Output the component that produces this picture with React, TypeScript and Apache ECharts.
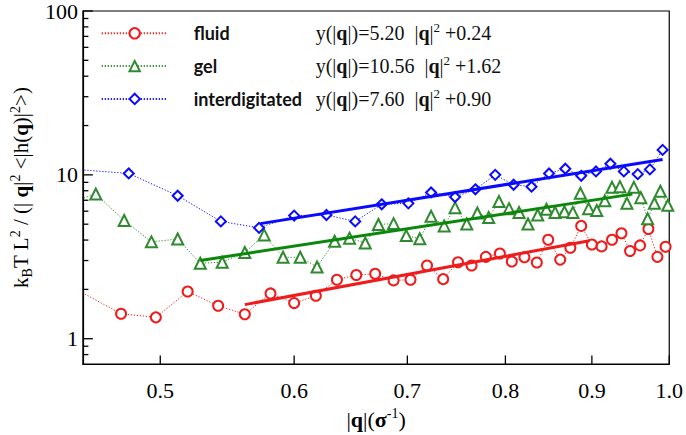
import React, { useEffect, useRef } from "react";
import * as echarts from "echarts";

const seriesNames = ["fluid", "gel", "interdigitated"];

const fluidQ = [0.448, 0.474, 0.497, 0.519, 0.541, 0.561, 0.581, 0.6, 0.618, 0.636, 0.653, 0.67, 0.687, 0.703, 0.719, 0.735, 0.75, 0.764, 0.779, 0.794, 0.807, 0.821, 0.835, 0.848, 0.862, 0.874, 0.887, 0.9, 0.912, 0.925, 0.937, 0.948, 0.961, 0.972, 0.984, 0.995];
const fluidY = [1.95, 1.42, 1.35, 1.94, 1.59, 1.41, 1.89, 1.65, 1.83, 2.29, 2.45, 2.49, 2.27, 2.29, 2.8, 2.31, 2.93, 2.8, 3.16, 3.31, 2.96, 3.14, 2.92, 4.02, 3.04, 3.59, 4.88, 3.76, 3.66, 4.02, 4.4, 3.43, 3.71, 4.67, 3.16, 3.64];

const gelQ = [0.435, 0.458, 0.476, 0.494, 0.512, 0.528, 0.544, 0.561, 0.576, 0.591, 0.605, 0.619, 0.634, 0.647, 0.661, 0.673, 0.687, 0.699, 0.712, 0.723, 0.736, 0.747, 0.759, 0.77, 0.782, 0.793, 0.804, 0.815, 0.825, 0.836, 0.846, 0.856, 0.867, 0.877, 0.886, 0.896, 0.906, 0.916, 0.925, 0.935, 0.944, 0.953, 0.962, 0.971, 0.98, 0.988, 0.998];
const gelY = [6.48, 7.63, 5.27, 3.9, 4.06, 2.89, 2.93, 3.36, 4.3, 3.14, 3.14, 2.74, 3.93, 4.11, 3.84, 4.98, 5.04, 4.26, 4.07, 5.59, 4.88, 6.31, 5.01, 5.85, 5.49, 6.88, 6.22, 5.9, 5.01, 5.69, 6.17, 5.9, 5.95, 5.9, 7.73, 6.22, 6.06, 6.94, 8.39, 8.47, 6.7, 8.39, 7.26, 5.39, 6.7, 7.94, 6.52];

const interQ = [0.44, 0.479, 0.512, 0.543, 0.572, 0.6, 0.627, 0.652, 0.676, 0.701, 0.723, 0.747, 0.768, 0.789, 0.809, 0.829, 0.849, 0.868, 0.887, 0.905, 0.923, 0.94, 0.958, 0.974, 0.991];
const interY = [10.9, 10.2, 7.46, 5.2, 4.75, 5.64, 5.69, 5.2, 6.61, 6.7, 7.81, 7.32, 8.16, 10.0, 8.7, 8.47, 10.2, 10.9, 9.87, 10.5, 11.7, 10.5, 10.1, 10.8, 14.2];

// fitted lines (end points)
const fluidFitQ = [0.561, 0.897];
const fluidFitY = [1.615, 3.965];
const gelFitQ = [0.528, 0.951];
const gelFitY = [3.0, 7.63];
const interFitQ = [0.573, 0.991];
const interFitY = [5.04, 12.4];

// legend equation coefficients y(|q|) = a |q|^2 + b
const fitA = [5.2, 10.56, 7.6];
const fitB = [0.24, 1.62, 0.9];

const X_MIN = 0.45;
const X_MAX = 1.0;
const Y_MIN = 0.7;
const Y_MAX = 100;
const xTicks = [0.5, 0.6, 0.7, 0.8, 0.9, 1.0];
const yMajorTicks = [1, 10, 100];
const yMinorTicks = [0.8, 0.9, 2, 3, 4, 5, 6, 7, 8, 9, 20, 30, 40, 50, 60, 70, 80, 90];

const RED = "#ee1c1c";
const GREEN = "#2f8a2f";
const GREEN_FIT = "#0b870b";
const BLUE = "#0a0aff";
const SERIF = "Liberation Serif";

const zip = (q: number[], y: number[]) => q.map((v, i) => [v, y[i]]);

const dataSeries = (name: string, q: number[], y: number[], color: string, symbol: string, size: number) => ({
  name,
  type: "line",
  data: zip(q, y),
  symbol,
  symbolSize: size,
  clip: true,
  lineStyle: { color, width: 1, type: [1.2, 1.8] },
  itemStyle: { color, borderColor: color, borderWidth: 1.3 },
  z: 2,
});

const fitSeries = (name: string, q: number[], y: number[], color: string) => ({
  name,
  type: "line",
  data: zip(q, y),
  symbol: "none",
  clip: true,
  silent: true,
  lineStyle: { color, width: 3, type: "solid" },
  z: 3,
});

// inward-pointing axis ticks placed through the axes' own scales
const tickSeries = (name: string, values: number[], dir: "x" | "y", len: number) => ({
  name,
  type: "custom",
  coordinateSystem: "cartesian2d",
  xAxisIndex: 0,
  yAxisIndex: 0,
  silent: true,
  clip: false,
  z: 10,
  encode: { x: 0, y: 1 },
  data: dir === "x" ? values.map((v) => [v, Y_MIN]) : values.map((v) => [X_MIN, v]),
  renderItem: (_params: any, api: any) => {
    const p = api.coord([api.value(0), api.value(1)]);
    const shape =
      dir === "x"
        ? { x1: p[0], y1: p[1], x2: p[0], y2: p[1] - len }
        : { x1: p[0], y1: p[1], x2: p[0] + len, y2: p[1] };
    return { type: "line", shape, style: { stroke: "#000", lineWidth: 1.3 } };
  },
});

const nameRich = {
  m: { fontFamily: SERIF, fontSize: 21, lineHeight: 26, color: "#000" },
  b: { fontFamily: SERIF, fontSize: 21, lineHeight: 26, fontWeight: "bold", color: "#000" },
  sup: { fontFamily: SERIF, fontSize: 14, lineHeight: 13, verticalAlign: "top", color: "#000" },
  sub: { fontFamily: SERIF, fontSize: 14, lineHeight: 13, verticalAlign: "bottom", color: "#000" },
};

export default function App() {
  const ref = useRef<HTMLDivElement>(null);
  useEffect(() => {
    const chart = echarts.init(ref.current as HTMLDivElement, null, { renderer: "svg" });
    const option: any = {
      animation: false,
      backgroundColor: "#fff",
      textStyle: { fontFamily: SERIF },
      grid: { left: 78.3, right: 13.3, top: 7.3, bottom: 60.7, show: true, borderColor: "#000", borderWidth: 1.2, backgroundColor: "transparent" },
      legend: {
        data: seriesNames,
        orient: "vertical",
        left: 100.7,
        top: 21.3,
        padding: 0,
        itemWidth: 66,
        itemHeight: 13,
        itemGap: 10.8,
        selectedMode: false,
        formatter: (name: string) => {
          const i = seriesNames.indexOf(name);
          return `{g| }{n|${name}}{m|y(|}{b|q}{m||)=${fitA[i].toFixed(2)}  |}{b|q}{m||}{s|2}{m| +${fitB[i].toFixed(2)}}`;
        },
        textStyle: {
          rich: {
            g: { width: 21, fontSize: 18, lineHeight: 24 },
            n: { fontFamily: "Lato", fontWeight: "bold", fontSize: 18, lineHeight: 24, width: 122, color: "#111" },
            m: { fontFamily: SERIF, fontSize: 20, lineHeight: 24, color: "#111" },
            b: { fontFamily: SERIF, fontSize: 20, lineHeight: 24, fontWeight: "bold", color: "#111" },
            s: { fontFamily: SERIF, fontSize: 13, lineHeight: 12, verticalAlign: "top", color: "#111" },
          },
        },
      },
      xAxis: {
        type: "log",
        logBase: 10,
        min: X_MIN,
        max: X_MAX,
        name: "{m||}{b|q}{m||(}{b|σ}{sup|-1}{m|)}",
        nameLocation: "middle",
        nameGap: 30,
        nameTextStyle: { rich: { ...nameRich, m: { ...nameRich.m, fontSize: 22 }, b: { ...nameRich.b, fontSize: 22 } } },
        axisLine: { show: true, lineStyle: { color: "#000", width: 1.2 } },
        axisTick: { show: false },
        axisLabel: { customValues: xTicks, formatter: (v: number) => v.toFixed(1), fontFamily: SERIF, fontSize: 22, color: "#000", margin: 15 },
        splitLine: { show: false },
      },
      yAxis: {
        type: "log",
        logBase: 10,
        min: Y_MIN,
        max: Y_MAX,
        position: "left",
        name: "{m|k}{sub|B}{m|T L}{sup|2}{m| / (| }{b|q}{m||}{sup|2}{m| <|h(}{b|q}{m|)|}{sup|2}{m|>)}",
        nameLocation: "middle",
        nameGap: 47,
        nameTextStyle: { rich: nameRich },
        axisLine: { show: true, lineStyle: { color: "#000", width: 1.2 } },
        axisTick: { show: false },
        axisLabel: { customValues: yMajorTicks, formatter: (v: number) => String(Math.round(v)), fontFamily: SERIF, fontSize: 22, color: "#000", margin: 5 },
        splitLine: { show: false },
      },
      series: [
        dataSeries("fluid", fluidQ, fluidY, RED, "emptyCircle", 10),
        dataSeries("gel", gelQ, gelY, GREEN, "emptyTriangle", 11),
        dataSeries("interdigitated", interQ, interY, BLUE, "emptyDiamond", 10),
        fitSeries("fluid fit", fluidFitQ, fluidFitY, RED),
        fitSeries("gel fit", gelFitQ, gelFitY, GREEN_FIT),
        fitSeries("interdigitated fit", interFitQ, interFitY, BLUE),
        tickSeries("x ticks", xTicks, "x", 8.7),
        tickSeries("y major ticks", yMajorTicks, "y", 10),
        tickSeries("y minor ticks", yMinorTicks, "y", 5.5),
      ],
    };
    chart.setOption(option);
    return () => chart.dispose();
  }, []);
  return <div ref={ref} style={{ position: "fixed", left: 0, top: 0, width: 686, height: 435 }} />;
}
